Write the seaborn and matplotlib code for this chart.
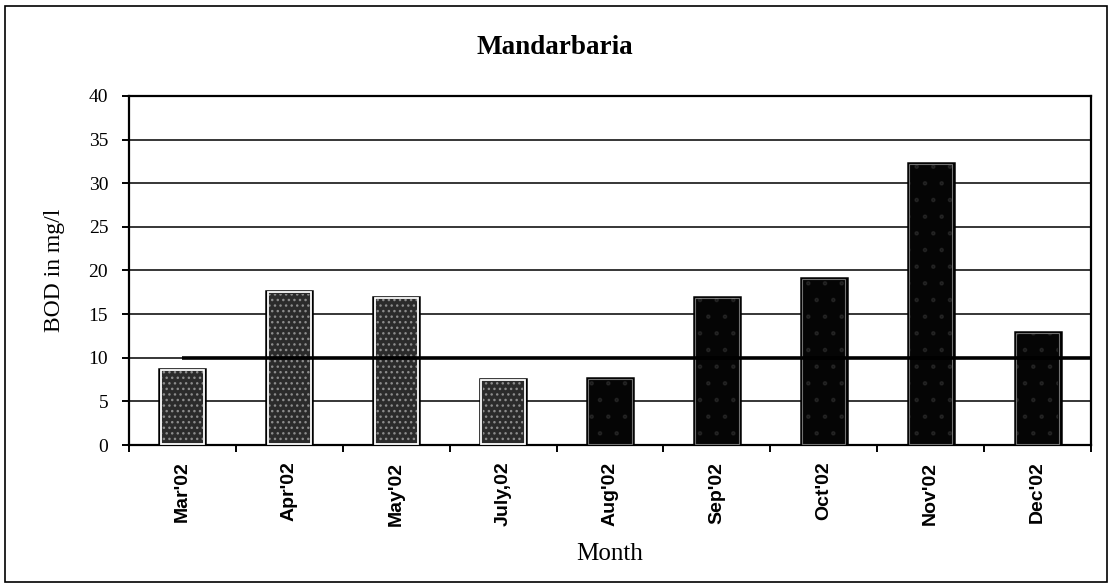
import matplotlib
matplotlib.use("Agg")
import matplotlib.pyplot as plt
from matplotlib.patches import Rectangle
from matplotlib.ticker import FixedLocator
import numpy as np
import pandas as pd
import seaborn as sns

# Monthly BOD readings at Mandarbaria
months = ["Mar'02", "Apr'02", "May'02", "July,02", "Aug'02",
          "Sep'02", "Oct'02", "Nov'02", "Dec'02"]
bod = [8.7, 17.6, 17.0, 7.6, 7.7, 17.0, 19.1, 32.3, 12.9]
# first four months shown stippled, rest solid
stippled = [True, True, True, True, False, False, False, False, False]
standard_limit = 10
y_ticks = [0, 5, 10, 15, 20, 25, 30, 35, 40]

sns.set_theme(style="white")
plt.rcParams["font.family"] = ["Liberation Serif", "DejaVu Serif"]

df = pd.DataFrame({"Month": months, "BOD": bod})
colors = ["#2b2b2b" if s else "#050505" for s in stippled]

fig = plt.figure(figsize=(11.09, 5.87), dpi=100)
ax = fig.add_axes([0.1163, 0.2419, 0.8675, 0.5946])

sns.barplot(data=df, x="Month", y="BOD", hue="Month", palette=colors,
            legend=False, width=0.43, edgecolor="black", linewidth=1.8,
            saturation=1, ax=ax, zorder=3)

# speckled fill and thin light inner rim
for patch, s in zip(list(ax.patches), stippled):
    x0, w, h = patch.get_x(), patch.get_width(), patch.get_height()
    if s:
        ax.add_patch(Rectangle((x0 + 0.025, 0.2), w - 0.05, h - 0.45,
                               facecolor="none", edgecolor="#8c8c8c",
                               hatch="...", linewidth=0, zorder=4))
        ax.add_patch(Rectangle((x0 + 0.012, 0.1), w - 0.024, h - 0.22,
                               facecolor="none", edgecolor="white",
                               linewidth=1.3, zorder=4))
    else:
        ax.add_patch(Rectangle((x0 + 0.02, 0.2), w - 0.04, h - 0.4,
                               facecolor="none", edgecolor="#6a6a6a",
                               hatch=".", linewidth=0, zorder=4, alpha=0.2))
        ax.add_patch(Rectangle((x0 + 0.012, 0.1), w - 0.024, h - 0.22,
                               facecolor="none", edgecolor="#bdbdbd",
                               linewidth=0.8, zorder=4, alpha=0.6))

n = len(months)
ax.set_xlim(-0.5, n - 0.5)
ax.set_ylim(0, 40)

# standard limit line
ax.plot([0, n - 0.5], [standard_limit, standard_limit], color="black",
        lw=2.6, zorder=5, solid_capstyle="butt")

ax.set_yticks(y_ticks)
ax.yaxis.grid(True, color="black", lw=1.1)
ax.set_axisbelow(True)

for sp in ax.spines.values():
    sp.set_color("black")
    sp.set_linewidth(1.6)
    sp.set_visible(True)

ax.set_xticks(range(n))
ax.set_xticklabels(months, rotation=90, fontfamily="Liberation Sans",
                   fontweight="bold", fontsize=14)
ax.xaxis.set_minor_locator(FixedLocator(np.arange(-0.5, n, 1.0)))
ax.tick_params(axis="x", which="major", length=0, pad=12, colors="black")
ax.tick_params(axis="x", which="minor", length=5, width=1.4, direction="out",
               bottom=True, color="black")
ax.tick_params(axis="y", which="major", length=5, width=1.4, direction="out",
               left=True, labelsize=14, pad=10, colors="black")

ax.set_xlabel("Month", fontsize=18, color="black")
ax.set_ylabel("BOD in mg/l", fontsize=17, color="black")
ax.xaxis.set_label_coords(0.5, -0.28)
ax.yaxis.set_label_coords(-0.066, 0.5)

fig.text(0.5, 1 - 47 / 587, "Mandarbaria", ha="center", va="center",
         fontsize=19.5, fontweight="bold", color="black")

# outer chart frame
fig.patches.append(Rectangle((5 / 1109, 5 / 587), 1102 / 1109, 576 / 587,
                             transform=fig.transFigure, fill=False,
                             edgecolor="black", linewidth=1.2))

fig.savefig("out.png", dpi=100, facecolor="white")
